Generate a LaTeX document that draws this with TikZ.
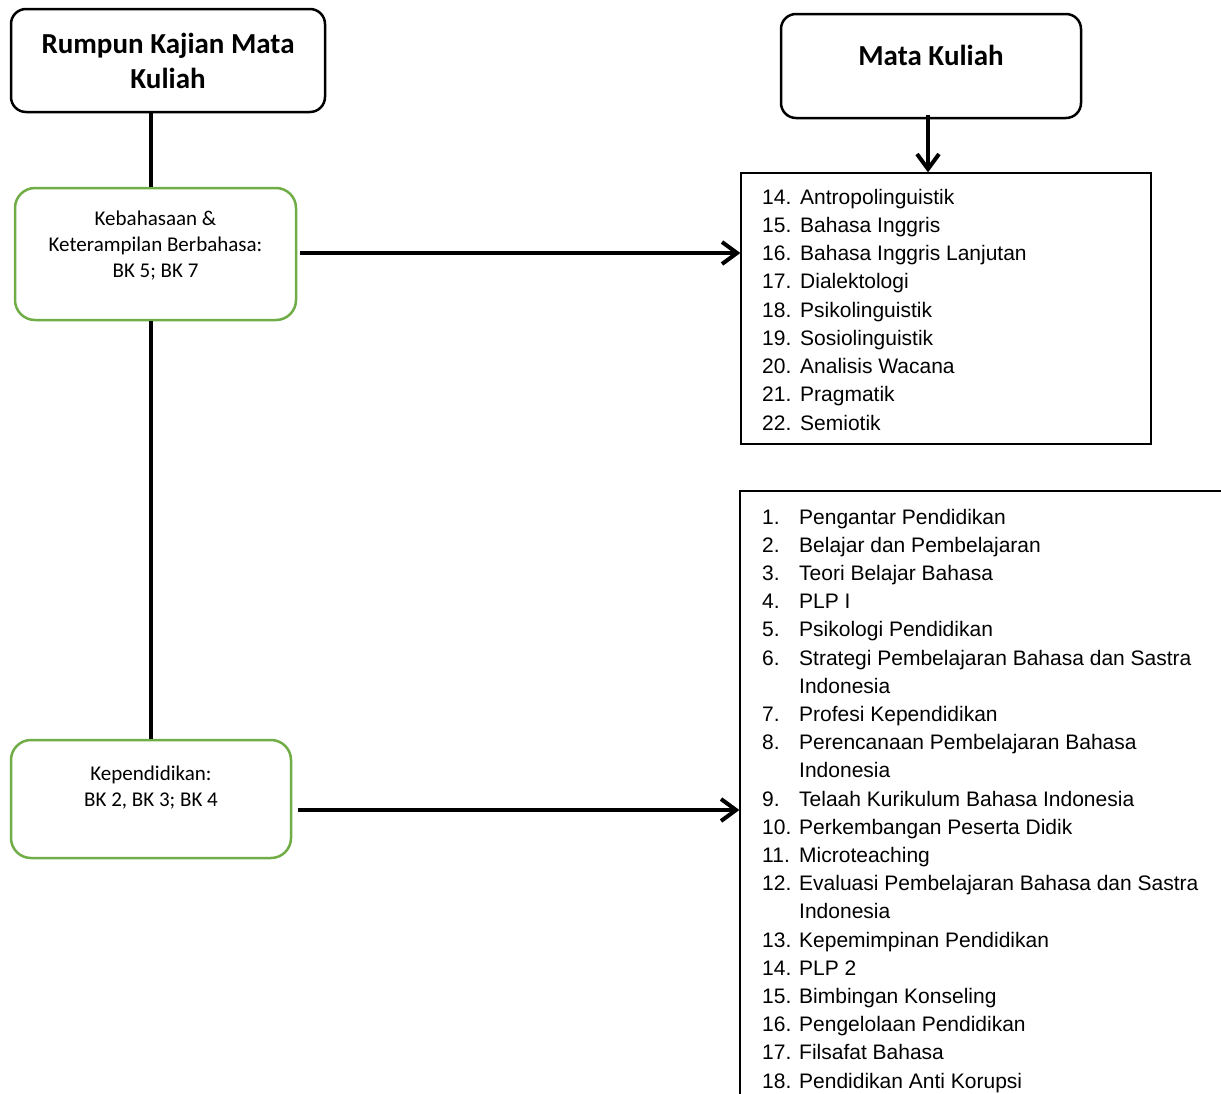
\documentclass[tikz,border=0pt]{standalone}
\usepackage{fontspec}
\setmainfont{Carlito}
\newfontfamily\arialfont{Liberation Sans}
\usetikzlibrary{arrows.meta,calc}
\definecolor{leafgreen}{HTML}{70AD47}

\tikzset{
  headbox/.style={draw=black, line width=2.5pt, rounded corners=15pt, inner sep=0pt},
  groupbox/.style={draw=leafgreen, line width=2.5pt, rounded corners=20pt, inner sep=0pt},
  listbox/.style={draw=black, line width=1.2pt, inner sep=0pt},
  headtext/.style={font=\bfseries\fontsize{29}{35}\selectfont, align=center, inner sep=0pt},
  grouptext/.style={font=\fontsize{21}{26}\selectfont, align=center, inner sep=0pt},
  item/.style={anchor=base west, inner sep=0pt, font=\arialfont\fontsize{21}{25}\selectfont},
  link/.style={line width=4pt},
  flow/.style={line width=4pt, -{Straight Barb[length=15pt,width=22pt,line width=4pt]}}
}

\begin{document}
\begin{tikzpicture}[x=1pt,y=-1pt]
\useasboundingbox (0,0) rectangle (1221,1093);
\clip (0,0) rectangle (1221,1093);

% heading boxes
\node[headbox, minimum width=314pt, minimum height=103pt] (rumpun) at (168,60.5) {};
\node[headtext] (rumpuntext) at (168,61) {Rumpun Kajian Mata\\Kuliah};
\node[headbox, minimum width=300pt, minimum height=104pt] (mk) at (931,66) {};
\node[headtext] (mktext) at (931,55) {Mata Kuliah};

% study-area groups
\node[groupbox, minimum width=281pt, minimum height=132pt] (keb) at (155.5,254) {};
\node[grouptext] (kebtext) at (155.5,246) {Kebahasaan \&\\Keterampilan Berbahasa:\\BK 5; BK 7};
\node[groupbox, minimum width=280pt, minimum height=118pt] (kep) at (151,799) {};
\node[grouptext] (keptext) at (151,788) {Kependidikan:\\BK 2, BK 3; BK 4};

% course lists
\node[listbox, minimum width=410pt, minimum height=271pt] (list1) at (946,308.5) {};
\node[listbox, minimum width=520pt, minimum height=640pt] (list2) at (1000,811) {};

\foreach \n/\t [count=\i from 0] in {
  14./Antropolinguistik, 15./Bahasa Inggris, 16./Bahasa Inggris Lanjutan,
  17./Dialektologi, 18./Psikolinguistik, 19./Sosiolinguistik,
  20./Analisis Wacana, 21./Pragmatik, 22./Semiotik}
{
  \node[item] (ka\i) at (762,{204+\i*28.25}) {\n};
  \node[item] (kb\i) at (800,{204+\i*28.25}) {\t};
}

\foreach \n/\t [count=\i from 0] in {
  1./Pengantar Pendidikan, 2./Belajar dan Pembelajaran, 3./Teori Belajar Bahasa,
  4./PLP I, 5./Psikologi Pendidikan, 6./Strategi Pembelajaran Bahasa dan Sastra,
  /Indonesia, 7./Profesi Kependidikan, 8./Perencanaan Pembelajaran Bahasa,
  /Indonesia, 9./Telaah Kurikulum Bahasa Indonesia, 10./Perkembangan Peserta Didik,
  11./Microteaching, 12./Evaluasi Pembelajaran Bahasa dan Sastra,
  /Indonesia, 13./Kepemimpinan Pendidikan, 14./PLP 2, 15./Bimbingan Konseling,
  16./Pengelolaan Pendidikan, 17./Filsafat Bahasa, 18./Pendidikan Anti Korupsi}
{
  \node[item] (pa\i) at (762,{524+\i*28.2}) {\n};
  \node[item] (pb\i) at (799,{524+\i*28.2}) {\t};
}

% connector start points
\coordinate (kebout) at ($(keb.east)+(3,-1)$);
\coordinate (kepout) at ($(kep.east)+(6,11)$);
\coordinate (mkout) at ($(mk.south)+(-3,-4)$);

% connectors
\draw[link] (kep.north |- rumpun.south) -- (kep.north |- keb.north);
\draw[link] (kep.north |- keb.south) -- (kep.north);
\draw[flow] (kebout) -- (kebout -| list1.west);
\draw[flow] (kepout) -- (kepout -| list2.west);
\draw[flow] (mkout) -- (mkout |- list1.north);
\end{tikzpicture}
\end{document}
